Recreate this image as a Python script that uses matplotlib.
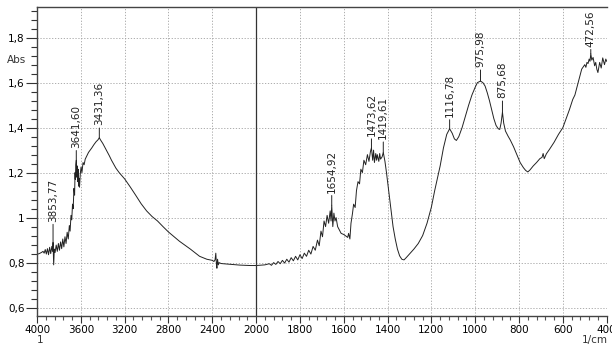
import numpy as np
import matplotlib
matplotlib.use("Agg")
import matplotlib.pyplot as plt
from matplotlib.ticker import FixedLocator, FuncFormatter

# spectrum (1/cm, Abs)
wavenumber = [
    4000, 3980, 3960, 3945, 3935, 3925, 3915, 3905, 3895, 3885, 3875, 3865,
    3858, 3853.77, 3848, 3842, 3835, 3825, 3815, 3805, 3795, 3785, 3775, 3765,
    3755, 3745, 3735, 3725, 3715, 3705, 3698, 3690, 3683, 3676, 3670, 3663,
    3657, 3653, 3650, 3646, 3641.6, 3638, 3634, 3630, 3625, 3621, 3618, 3612,
    3605, 3598, 3590, 3580, 3570, 3560, 3545, 3530, 3515, 3500, 3480, 3460,
    3445, 3431.36, 3420, 3400, 3380, 3360, 3340, 3320, 3300, 3280, 3250, 3200,
    3150, 3100, 3050, 3000, 2950, 2900, 2850, 2800, 2700, 2600, 2516, 2450,
    2400, 2385, 2375, 2368, 2362, 2358, 2352, 2345, 2338, 2320, 2300, 2250,
    2200, 2150, 2100, 2050, 2000, 1960, 1940, 1930, 1920, 1910, 1900, 1890,
    1880, 1870, 1860, 1850, 1840, 1830, 1820, 1810, 1800, 1790, 1780, 1770,
    1760, 1750, 1740, 1730, 1720, 1712, 1704, 1697, 1690, 1683, 1676, 1669,
    1662, 1658, 1654.92, 1650, 1645, 1640, 1635, 1628, 1620, 1612, 1600, 1590,
    1582, 1578, 1572, 1567, 1560, 1555, 1548, 1542, 1535, 1528, 1522, 1515,
    1508, 1500, 1492, 1485, 1478, 1473.62, 1468, 1464, 1460, 1454, 1450, 1447,
    1440, 1436, 1432, 1425, 1419.61, 1412, 1405, 1395, 1385, 1375, 1365, 1355,
    1345, 1335, 1325, 1315, 1300, 1280, 1260, 1240, 1220, 1200, 1185, 1170,
    1160, 1145, 1130, 1116.78, 1105, 1095, 1086, 1075, 1060, 1045, 1030, 1015,
    1000, 990, 975.98, 965, 955, 945, 935, 925, 915, 905, 895, 888,
    882, 875.68, 870, 862, 850, 840, 825, 810, 795, 780, 770, 760,
    750, 735, 720, 705, 695, 690, 685, 675, 660, 640, 620, 600,
    585, 570, 555, 545, 525, 514, 500, 495, 490, 485, 480, 476,
    472.56, 468, 462, 455, 450, 445, 440, 432, 425, 418, 410, 404,
    400,
]
absorbance = [
    0.837, 0.840, 0.845, 0.850, 0.842, 0.858, 0.838, 0.862, 0.835, 0.868, 0.840, 0.872,
    0.850, 0.890, 0.790, 0.860, 0.845, 0.878, 0.850, 0.885, 0.855, 0.892, 0.862, 0.905,
    0.870, 0.915, 0.885, 0.935, 0.905, 0.965, 0.940, 1.010, 0.990, 1.060, 1.040, 1.130,
    1.100, 1.200, 1.170, 1.235, 1.255, 1.180, 1.230, 1.160, 1.215, 1.140, 1.175, 1.135,
    1.195, 1.225, 1.200, 1.245, 1.235, 1.260, 1.275, 1.290, 1.300, 1.310, 1.325, 1.338,
    1.345, 1.355, 1.345, 1.330, 1.312, 1.293, 1.275, 1.255, 1.237, 1.220, 1.200, 1.172,
    1.137, 1.100, 1.062, 1.030, 1.005, 0.985, 0.960, 0.936, 0.895, 0.860, 0.828, 0.815,
    0.810, 0.805, 0.812, 0.842, 0.790, 0.775, 0.815, 0.790, 0.800, 0.796, 0.795, 0.793,
    0.791, 0.789, 0.788, 0.787, 0.787, 0.790, 0.795, 0.788, 0.800, 0.792, 0.805, 0.795,
    0.810, 0.798, 0.815, 0.802, 0.822, 0.808, 0.828, 0.812, 0.835, 0.818, 0.842, 0.828,
    0.855, 0.838, 0.872, 0.855, 0.900, 0.875, 0.940, 0.915, 0.985, 0.960, 1.010, 0.975,
    1.030, 0.985, 1.055, 0.960, 1.020, 0.985, 1.000, 0.960, 0.945, 0.930, 0.925, 0.918,
    0.912, 0.930, 0.905, 0.975, 1.020, 1.060, 1.045, 1.120, 1.160, 1.150, 1.215, 1.200,
    1.255, 1.235, 1.280, 1.250, 1.295, 1.310, 1.255, 1.300, 1.245, 1.285, 1.255, 1.280,
    1.250, 1.285, 1.260, 1.270, 1.290, 1.250, 1.200, 1.120, 1.040, 0.960, 0.905, 0.860,
    0.830, 0.815, 0.812, 0.822, 0.838, 0.860, 0.885, 0.920, 0.975, 1.047, 1.120, 1.185,
    1.230, 1.310, 1.370, 1.395, 1.375, 1.350, 1.343, 1.360, 1.400, 1.450, 1.500, 1.545,
    1.580, 1.600, 1.607, 1.600, 1.585, 1.555, 1.520, 1.480, 1.440, 1.410, 1.395, 1.392,
    1.420, 1.469, 1.420, 1.385, 1.362, 1.345, 1.315, 1.280, 1.245, 1.222, 1.210, 1.203,
    1.212, 1.230, 1.245, 1.262, 1.268, 1.285, 1.262, 1.284, 1.305, 1.335, 1.370, 1.400,
    1.440, 1.480, 1.525, 1.545, 1.620, 1.660, 1.680, 1.668, 1.690, 1.685, 1.705, 1.695,
    1.729, 1.700, 1.712, 1.675, 1.690, 1.660, 1.645, 1.690, 1.665, 1.710, 1.680, 1.705,
    1.695,
]

peak_wn = [3853.77, 3641.60, 3431.36, 1654.92, 1473.62, 1419.61, 1116.78, 975.98, 875.68, 472.56]
peak_labels = ["3853,77", "3641,60", "3431,36", "1654,92", "1473,62", "1419,61",
               "1116,78", "975,98", "875,68", "472,56"]

x_major = [4000, 3600, 3200, 2800, 2400, 2000, 1800, 1600, 1400, 1200, 1000, 800, 600, 400]
y_major = [0.6, 0.8, 1.0, 1.2, 1.4, 1.6, 1.8]
y_labels = ["0,6", "0,8", "1", "1,2", "1,4", "1,6", "1,8"]

plt.rcParams['font.family'] = ['Liberation Sans Narrow', 'DejaVu Sans Condensed', 'DejaVu Sans']
plt.rcParams['font.size'] = 7.5


# scale: above 2000 1/cm the axis is compressed by half
def fwd(w):
    w = np.asarray(w, dtype=float)
    return np.where(w >= 2000, w / 2 + 1000, w)


def inv(g):
    g = np.asarray(g, dtype=float)
    return np.where(g >= 2000, (g - 1000) * 2, g)


fig = plt.figure(figsize=(6.12, 3.47), dpi=100)
ax = fig.add_axes([0.0605, 0.0902, 0.9308, 0.8888])
ax.set_xscale('function', functions=(fwd, inv))

ax.plot(wavenumber, absorbance, color='#222222', lw=0.7)
ax.set_xlim(4000, 400)
ax.set_ylim(0.564, 1.935)

ax.xaxis.set_major_locator(FixedLocator(x_major))
x_minor = list(np.arange(4000, 2000, -80)) + list(np.arange(2000, 399, -40))
ax.xaxis.set_minor_locator(FixedLocator(x_minor))
ax.xaxis.set_major_formatter(FuncFormatter(lambda v, p: "%d" % round(v)))
ax.set_yticks(y_major)
ax.set_yticklabels(y_labels)
ax.yaxis.set_minor_locator(FixedLocator(np.arange(0.6, 1.93, 0.04)))

ax.tick_params(axis='y', which='major', length=8, width=0.8, color='#333333', pad=1, labelsize=7.5)
ax.tick_params(axis='y', which='minor', length=4, width=0.8, color='#333333')
ax.tick_params(axis='x', which='major', length=5, width=0.8, color='#333333', pad=2, labelsize=7.5)
ax.tick_params(axis='x', which='minor', length=3, width=0.8, color='#555555')

ax.grid(True, which='major', color='#a0a0a0', linestyle=(0, (1.5, 2)), lw=0.6)
ax.axvline(2000, color='#333333', lw=0.9)

for s in ['left', 'bottom', 'top']:
    ax.spines[s].set_color('#444444')
    ax.spines[s].set_linewidth(1.0)
ax.spines['right'].set_visible(False)

offsets = [15, 9, 9, 9, 8.5, 9.5, 8.5, 10, 10, 5]
for w, lab, off in zip(peak_wn, peak_labels, offsets):
    yv = np.interp(w, wavenumber[::-1], absorbance[::-1])
    ax.annotate(lab, xy=(w, yv), xytext=(0, off), textcoords='offset points',
                rotation=90, ha='center', va='bottom', fontsize=7.5, color='#222222',
                arrowprops=dict(arrowstyle='-', lw=0.7, color='#222222', shrinkA=0, shrinkB=0))

fig.text(7 / 612, 1 - 60 / 347, "Abs", fontsize=7.5, ha='left', va='center', color='#333333')
fig.text(40 / 612, 1 - 340 / 347, "1", fontsize=7.5, ha='center', va='center', color='#333333')
fig.text(595 / 612, 1 - 340 / 347, "1/cm", fontsize=7.5, ha='center', va='center', color='#333333')

fig.savefig("out.png", dpi=100)
